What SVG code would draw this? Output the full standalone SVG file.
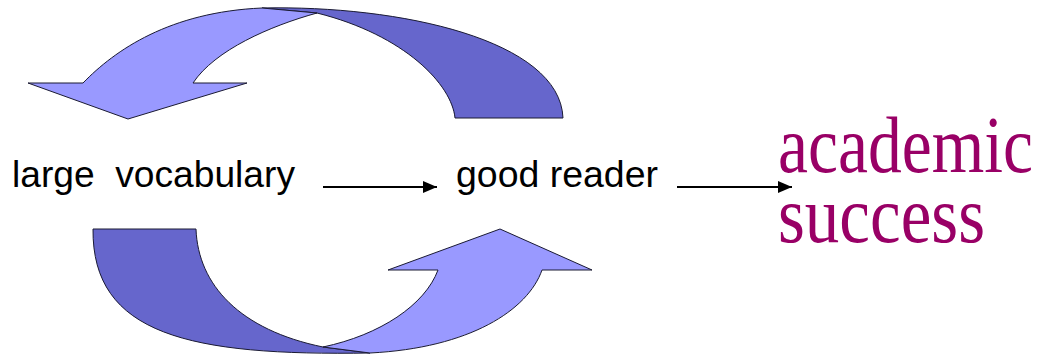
<svg xmlns="http://www.w3.org/2000/svg" width="1042" height="354" viewBox="0 0 1042 354">
  <style>
    .band-light { fill: #9999FF; stroke: #1a1a33; stroke-width: 1; stroke-linejoin: round; }
    .band-dark { fill: #6666CC; stroke: #1a1a33; stroke-width: 1; stroke-linejoin: round; }
    .label { font-family: "Liberation Sans", Arial, sans-serif; font-size: 37.5px; fill: #000000; white-space: pre; }
    .goal { font-family: "Liberation Serif", "Times New Roman", serif; font-size: 68px; fill: #990066; }
    .link { stroke: #000000; stroke-width: 2; fill: none; }
  </style>
  <defs>
    <marker id="head" markerUnits="userSpaceOnUse" markerWidth="14" markerHeight="12" refX="14" refY="6" orient="auto">
      <path d="M0,0 L14,6 L0,12 Z" fill="#000000"/>
    </marker>
  </defs>

  <!-- upper curved arrow: returns from "good reader" back to "large vocabulary" -->
  <g id="cycle-top">
    <path class="band-dark" d="M262,8 C400,5 560,40 563,118 L455,118 C452,85 405,35 317,13 Z"/>
    <path class="band-light" d="M28,83 L83,83 C115,50 170,12 262,8 L317,13 C270,26 215,50 193,83 L247,83 L128,119 Z"/>
  </g>

  <!-- lower curved arrow: leads from "large vocabulary" up to "good reader" -->
  <g id="cycle-bottom">
    <path class="band-dark" d="M93,229 L196,229 C198,285 240,330 323,347 L370,353 C190,356 92,335 93,229 Z"/>
    <path class="band-light" d="M323,347 C380,335 425,305 438,270 L388,270 L500,229 L592,270 L542,270 C528,310 470,348 370,353 Z"/>
  </g>

  <g id="node-vocabulary">
    <text class="label" x="12" y="187" textLength="283" lengthAdjust="spacingAndGlyphs" xml:space="preserve">large  vocabulary</text>
  </g>

  <g id="node-reader">
    <text class="label" x="456" y="187" textLength="202" lengthAdjust="spacingAndGlyphs">good reader</text>
  </g>

  <!-- tall, narrow serif lettering: 68px face stretched vertically -->
  <g id="node-success">
    <text class="goal" transform="translate(778,172) scale(1,1.176)" x="0" y="0" textLength="255" lengthAdjust="spacingAndGlyphs">academic</text>
    <text class="goal" transform="translate(778,242) scale(1,1.176)" x="0" y="0" textLength="207" lengthAdjust="spacingAndGlyphs">success</text>
  </g>

  <g id="connectors">
    <line class="link" x1="323" y1="187" x2="437" y2="187" marker-end="url(#head)"/>
    <line class="link" x1="677" y1="187" x2="792" y2="187" marker-end="url(#head)"/>
  </g>
</svg>
